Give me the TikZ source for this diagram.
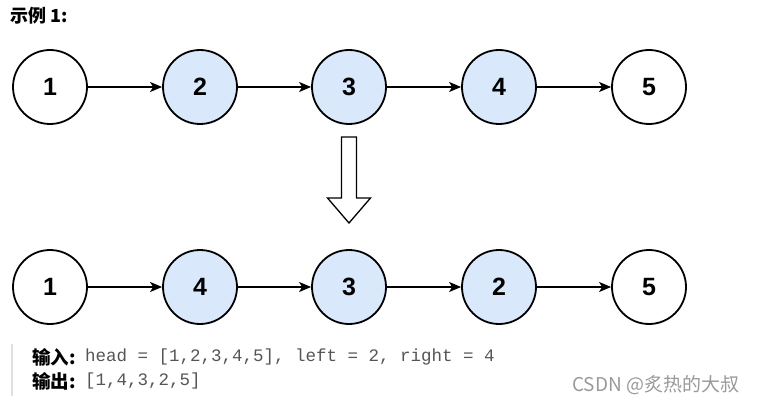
\documentclass[tikz,border=0pt]{standalone}
\usepackage{fontspec}
\setmainfont{Liberation Sans}
\setmonofont{Liberation Mono}
\newfontfamily\cjk{Noto Sans CJK SC}
\usetikzlibrary{arrows.meta}
\definecolor{nodeblue}{HTML}{DAE8FC}
\definecolor{codegray}{HTML}{555555}
\definecolor{bargray}{HTML}{E0E0E0}
\definecolor{markgray}{HTML}{999999}

\begin{document}
\begin{tikzpicture}[x=1pt, y=-1pt,
	listnode/.style={circle, draw, line width=1.8pt, minimum size=74pt, inner sep=0pt,
		font=\fontsize{25}{25}\selectfont\bfseries},
	swapped/.style={listnode, fill=nodeblue},
	link/.style={-{Stealth[length=12pt, width=10pt, inset=3pt]}, line width=1.4pt}]
		\useasboundingbox (0, 0) rectangle (759, 406);
		% title
		\node[anchor=west, inner sep=0pt, font=\cjk\bfseries\fontsize{18}{18}\selectfont] (title) at (10, 16) {示例 1:};
		% list before
		\node[listnode] (a1) at (50, 87) {1};
		\node[swapped] (a2) at (200, 87) {2};
		\node[swapped] (a3) at (349, 87) {3};
		\node[swapped] (a4) at (499, 87) {4};
		\node[listnode] (a5) at (649, 87) {5};
		\draw[link] (a1) -- (a2);
		\draw[link] (a2) -- (a3);
		\draw[link] (a3) -- (a4);
		\draw[link] (a4) -- (a5);
		% hollow arrow between the two lists
		\draw[line width=1.3pt, line join=miter] (341.5, 137) -- (356.5, 137) -- (356.5, 198) -- (370.5, 198)
			-- (349, 223) -- (327.5, 198) -- (341.5, 198) -- cycle;
		% list after
		\node[listnode] (b1) at (50, 287) {1};
		\node[swapped] (b2) at (200, 287) {4};
		\node[swapped] (b3) at (349, 287) {3};
		\node[swapped] (b4) at (499, 287) {2};
		\node[listnode] (b5) at (649, 287) {5};
		\draw[link] (b1) -- (b2);
		\draw[link] (b2) -- (b3);
		\draw[link] (b3) -- (b4);
		\draw[link] (b4) -- (b5);
		% example input and output
		\fill[bargray] (11, 344) rectangle (13, 396);
		\node[anchor=west, inner sep=0pt, font=\cjk\bfseries\fontsize{18.5}{18.5}\selectfont] (inlabel) at (32, 357) {输入:};
		\node[anchor=west, inner sep=0pt, text=codegray, font=\ttfamily\fontsize{17.5}{17.5}\selectfont] (intext) at (85, 357) {head = [1,2,3,4,5], left = 2, right = 4};
		\node[anchor=west, inner sep=0pt, font=\cjk\bfseries\fontsize{18.5}{18.5}\selectfont] (outlabel) at (32, 381) {输出:};
		\node[anchor=west, inner sep=0pt, text=codegray, font=\ttfamily\fontsize{17.5}{17.5}\selectfont] (outtext) at (85, 381) {[1,4,3,2,5]};
		% watermark
		\node[anchor=west, inner sep=0pt, text=markgray, font=\cjk\fontsize{19}{19}\selectfont] (mark) at (572, 385) {CSDN @炙热的大叔};
	\end{tikzpicture}
\end{document}
